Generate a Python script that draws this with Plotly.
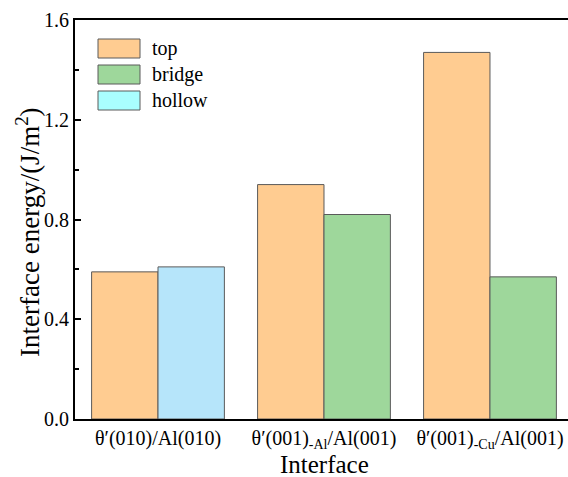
import plotly.graph_objects as go

categories = ["θ′(010)/Al(010)", "θ′(001)<sub>-Al</sub>/Al(001)", "θ′(001)<sub>-Cu</sub>/Al(001)"]
top_values = [0.59, 0.94, 1.47]
bridge_values = [None, 0.82, 0.57]
hollow_values = [0.61, None, None]
legend_names = ["top", "bridge", "hollow"]
y_tick_vals = [0.0, 0.4, 0.8, 1.2, 1.6]
x_title = "Interface"
y_title = "Interface energy/(J/m<sup>2</sup>)"

W, H = 568, 477
ML, MT, MB, MR = 75, 20, 58, 0
PW, PH = W - ML - MR, H - MT - MB

C_TOP = "#FFCC91"
C_BRIDGE = "#9ED79B"
C_HOLLOW = "#B6E5FA"
C_HOLLOW_LEG = "#A9FEFF"
FONT = "Times New Roman, Liberation Serif, Tinos, DejaVu Serif, serif"

xpos = list(range(len(categories)))

fig = go.Figure()
line = dict(color="#5a5a5a", width=1)
fig.add_trace(go.Bar(x=xpos, y=top_values, name="top", offset=-0.4, width=0.4,
                     marker=dict(color=C_TOP, line=line), showlegend=False))
fig.add_trace(go.Bar(x=xpos, y=bridge_values, name="bridge", offset=0.0, width=0.4,
                     marker=dict(color=C_BRIDGE, line=line), showlegend=False))
fig.add_trace(go.Bar(x=xpos, y=hollow_values, name="hollow", offset=0.0, width=0.4,
                     marker=dict(color=C_HOLLOW, line=line), showlegend=False))

def px_x(p):
    return (p - ML) / PW

def px_y(p):
    return (H - MB - p) / PH

shapes = []
annotations = []
leg_colors = [C_TOP, C_BRIDGE, C_HOLLOW_LEG]
for i, (nm, col) in enumerate(zip(legend_names, leg_colors)):
    y0 = 39 + i * 26
    shapes.append(dict(type="rect", xref="paper", yref="paper",
                       x0=px_x(98), x1=px_x(140), y0=px_y(y0 + 19), y1=px_y(y0),
                       fillcolor=col, line=dict(color="#5a5a5a", width=1)))
    annotations.append(dict(xref="paper", yref="paper", x=px_x(150), y=px_y(y0 + 9.5),
                            text=nm, showarrow=False, xanchor="left", yanchor="middle",
                            font=dict(family=FONT, size=20, color="black")))

# axis titles
annotations.append(dict(xref="paper", yref="paper", x=px_x(324), y=px_y(464),
                        text=x_title, showarrow=False, xanchor="center", yanchor="middle",
                        font=dict(family=FONT, size=25, color="black")))
annotations.append(dict(xref="paper", yref="paper", x=px_x(28), y=px_y(232),
                        text=y_title, showarrow=False, xanchor="center", yanchor="middle",
                        textangle=-90,
                        font=dict(family=FONT, size=27, color="black")))

fig.update_layout(
    width=W, height=H,
    margin=dict(l=ML, r=MR, t=MT, b=MB, pad=0),
    barmode="overlay",
    plot_bgcolor="white", paper_bgcolor="white",
    font=dict(family=FONT, size=20, color="black"),
    shapes=shapes, annotations=annotations,
    showlegend=False,
)
fig.update_xaxes(
    range=[-0.5, 2.47], tickmode="array", tickvals=xpos, ticktext=categories,
    showline=True, linecolor="black", linewidth=2, mirror=True,
    ticks="", showgrid=False, zeroline=False,
    tickfont=dict(family=FONT, size=20),
)
fig.update_yaxes(
    range=[0, 1.6], tickmode="array", tickvals=y_tick_vals,
    ticktext=[f"{v:.1f}" for v in y_tick_vals],
    showline=True, linecolor="black", linewidth=2, mirror=False,
    ticks="inside", ticklen=6, tickwidth=2, tickcolor="black",
    minor=dict(ticks="inside", ticklen=4, tickwidth=2, tickcolor="black", dtick=0.2, showgrid=False),
    showgrid=False, zeroline=False,
    tickfont=dict(family=FONT, size=20),
)

fig.write_html("out.html")
